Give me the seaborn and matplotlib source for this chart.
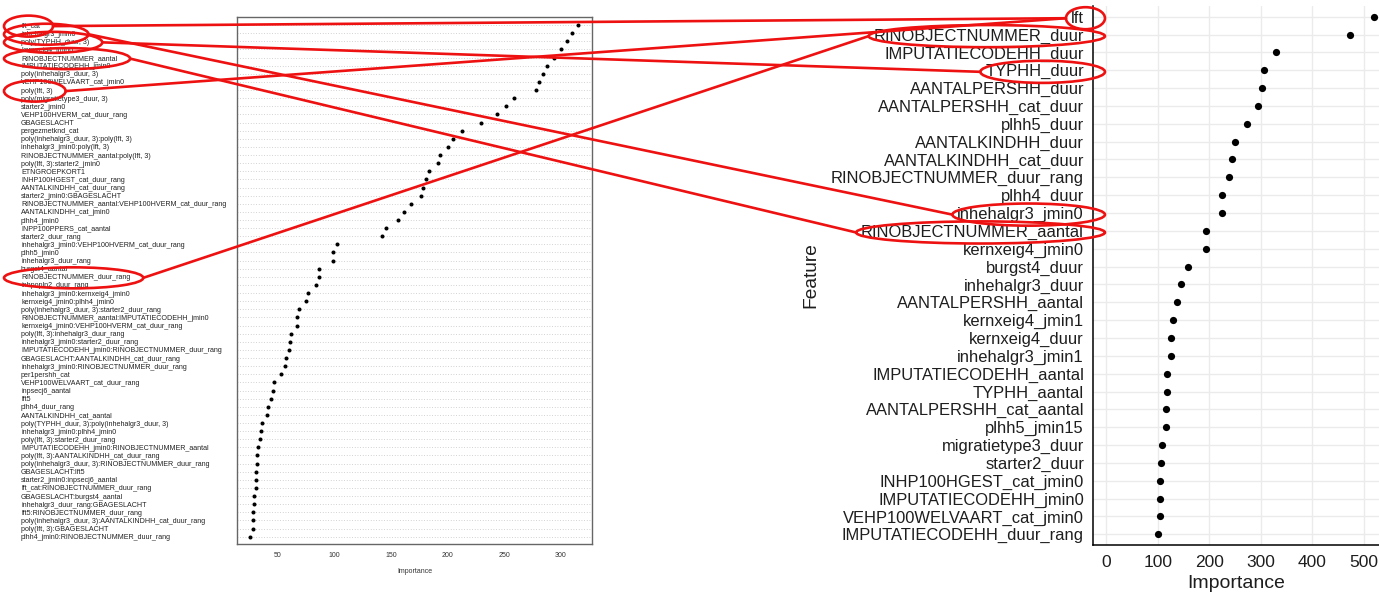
import matplotlib
matplotlib.use('Agg')
import matplotlib.pyplot as plt
import seaborn as sns
import pandas as pd
from matplotlib.patches import Ellipse
from matplotlib.lines import Line2D
from matplotlib.transforms import IdentityTransform

# left panel: variable importance of the regression model (64 terms)
glm_features = [
    'lft_cat', 'inhehalgr3_jmin0', 'poly(TYPHH_duur, 3)', 'kernxeig4_jmin0',
    'RINOBJECTNUMMER_aantal', 'IMPUTATIECODEHH_jmin0', 'poly(inhehalgr3_duur, 3)',
    'VEHP100WELVAART_cat_jmin0', 'poly(lft, 3)', 'poly(migratietype3_duur, 3)',
    'starter2_jmin0', 'VEHP100HVERM_cat_duur_rang', 'GBAGESLACHT', 'pergezmetknd_cat',
    'poly(inhehalgr3_duur, 3):poly(lft, 3)', 'inhehalgr3_jmin0:poly(lft, 3)',
    'RINOBJECTNUMMER_aantal:poly(lft, 3)', 'poly(lft, 3):starter2_jmin0',
    'ETNGROEPKORT1', 'INHP100HGEST_cat_duur_rang', 'AANTALKINDHH_cat_duur_rang',
    'starter2_jmin0:GBAGESLACHT', 'RINOBJECTNUMMER_aantal:VEHP100HVERM_cat_duur_rang',
    'AANTALKINDHH_cat_jmin0', 'plhh4_jmin0', 'INPP100PPERS_cat_aantal',
    'starter2_duur_rang', 'inhehalgr3_jmin0:VEHP100HVERM_cat_duur_rang', 'plhh5_jmin0',
    'inhehalgr3_duur_rang', 'burgst4_aantal', 'RINOBJECTNUMMER_duur_rang',
    'inhpopln2_duur_rang', 'inhehalgr3_jmin0:kernxeig4_jmin0', 'kernxeig4_jmin0:plhh4_jmin0',
    'poly(inhehalgr3_duur, 3):starter2_duur_rang',
    'RINOBJECTNUMMER_aantal:IMPUTATIECODEHH_jmin0',
    'kernxeig4_jmin0:VEHP100HVERM_cat_duur_rang', 'poly(lft, 3):inhehalgr3_duur_rang',
    'inhehalgr3_jmin0:starter2_duur_rang',
    'IMPUTATIECODEHH_jmin0:RINOBJECTNUMMER_duur_rang',
    'GBAGESLACHT:AANTALKINDHH_cat_duur_rang', 'inhehalgr3_jmin0:RINOBJECTNUMMER_duur_rang',
    'per1pershh_cat', 'VEHP100WELVAART_cat_duur_rang', 'inpsecj6_aantal', 'lft5',
    'plhh4_duur_rang', 'AANTALKINDHH_cat_aantal',
    'poly(TYPHH_duur, 3):poly(inhehalgr3_duur, 3)', 'inhehalgr3_jmin0:plhh4_jmin0',
    'poly(lft, 3):starter2_duur_rang', 'IMPUTATIECODEHH_jmin0:RINOBJECTNUMMER_aantal',
    'poly(lft, 3):AANTALKINDHH_cat_duur_rang',
    'poly(inhehalgr3_duur, 3):RINOBJECTNUMMER_duur_rang', 'GBAGESLACHT:lft5',
    'starter2_jmin0:inpsecj6_aantal', 'lft_cat:RINOBJECTNUMMER_duur_rang',
    'GBAGESLACHT:burgst4_aantal', 'inhehalgr3_duur_rang:GBAGESLACHT',
    'lft5:RINOBJECTNUMMER_duur_rang',
    'poly(inhehalgr3_duur, 3):AANTALKINDHH_cat_duur_rang', 'poly(lft, 3):GBAGESLACHT',
    'plhh4_jmin0:RINOBJECTNUMMER_duur_rang',
]
glm_importance = [
    315, 309.7, 305, 300, 293.5, 288, 283.8, 280.8, 278, 258.7, 251.7, 243.7, 229.6,
    212.8, 204.6, 199.8, 192.8, 191.6, 183.7, 180.7, 177.8, 176.6, 167.8, 161.6,
    155.7, 145.7, 141.5, 102.4, 98.6, 98.6, 86.5, 86.5, 83.6, 76.5, 74.4, 68.5,
    66.5, 66.5, 61.2, 60.3, 59.4, 57.3, 56.5, 52.3, 46.5, 45.3, 43.5, 41.5, 40.3,
    36.1, 35.3, 34.4, 32.3, 31.4, 31.4, 30.2, 30.2, 30.2, 29.1, 29.1, 28.2, 28.2,
    28.2, 25.3,
]

# right panel: feature importance of the tree model (30 features)
xgb_features = [
    'lft', 'RINOBJECTNUMMER_duur', 'IMPUTATIECODEHH_duur', 'TYPHH_duur',
    'AANTALPERSHH_duur', 'AANTALPERSHH_cat_duur', 'plhh5_duur', 'AANTALKINDHH_duur',
    'AANTALKINDHH_cat_duur', 'RINOBJECTNUMMER_duur_rang', 'plhh4_duur',
    'inhehalgr3_jmin0', 'RINOBJECTNUMMER_aantal', 'kernxeig4_jmin0', 'burgst4_duur',
    'inhehalgr3_duur', 'AANTALPERSHH_aantal', 'kernxeig4_jmin1', 'kernxeig4_duur',
    'inhehalgr3_jmin1', 'IMPUTATIECODEHH_aantal', 'TYPHH_aantal',
    'AANTALPERSHH_cat_aantal', 'plhh5_jmin15', 'migratietype3_duur', 'starter2_duur',
    'INHP100HGEST_cat_jmin0', 'IMPUTATIECODEHH_jmin0', 'VEHP100WELVAART_cat_jmin0',
    'IMPUTATIECODEHH_duur_rang',
]
xgb_importance = [
    519.8, 474.4, 330.7, 307.4, 303.5, 294.5, 273.1, 250.5, 244, 238.2, 224, 224,
    194.2, 194.2, 159.2, 144.3, 137.2, 128.8, 126.2, 125.6, 117.8, 117.8, 116.5,
    116.5, 108.7, 106.8, 104.2, 103.6, 103.6, 100.3,
]

# red annotations: left term -> matching right feature
links = [
    ('lft_cat', 'lft'),
    ('inhehalgr3_jmin0', 'inhehalgr3_jmin0'),
    ('poly(TYPHH_duur, 3)', 'TYPHH_duur'),
    ('RINOBJECTNUMMER_aantal', 'RINOBJECTNUMMER_aantal'),
    ('poly(lft, 3)', 'lft'),
    ('RINOBJECTNUMMER_duur_rang', 'RINOBJECTNUMMER_duur'),
]

W, H = 1379, 595
sns.set_style('white')
plt.rcParams['font.family'] = ['Liberation Sans', 'DejaVu Sans']
fig = plt.figure(figsize=(W / 100, H / 100), dpi=100)


def px(l, t, r, b):
    return [l / W, 1 - b / H, (r - l) / W, (b - t) / H]


# ---- left panel (lattice style dotplot)
ax1 = fig.add_axes(px(237, 17, 592, 544))
left = pd.DataFrame({'feature': glm_features, 'importance': glm_importance})
sns.stripplot(data=left, x='importance', y='feature', order=glm_features,
              jitter=False, color='black', size=2.9, linewidth=0, ax=ax1)
ax1.set_xlim(13.8, 327.4)
ax1.set_ylim(len(glm_features) - 0.1, -1.0)
ax1.set_xticks([50, 100, 150, 200, 250, 300])
ax1.set_yticks(range(len(glm_features)), glm_features, ha='left', fontsize=5.1, color='#222222')
ax1.tick_params(axis='y', length=0, pad=(237 - 21) * 0.72)
ax1.tick_params(axis='x', length=2.5, width=0.6, color='#555555', labelsize=5.0,
                pad=3, labelcolor='#333333')
ax1.grid(False)
ax1.yaxis.grid(True, linestyle=(0, (1, 2.2)), color='#c4c4c4', linewidth=0.6)
ax1.set_axisbelow(True)
for s in ax1.spines.values():
    s.set_visible(True)
    s.set_color('#666666')
    s.set_linewidth(1.0)
ax1.set_ylabel('')
ax1.set_xlabel('Importance', fontsize=5.0, color='#333333', labelpad=7)

# ---- right panel (ggplot style)
ax2 = fig.add_axes(px(1093, 6, 1379, 545))
right = pd.DataFrame({'feature': xgb_features, 'importance': xgb_importance})
sns.stripplot(data=right, x='importance', y='feature', order=xgb_features,
              jitter=False, color='black', size=5.2, linewidth=0, ax=ax2)
ax2.set_xlim(-26, 530)
ax2.set_ylim(len(xgb_features) - 0.4, -0.6)
ax2.set_xticks([0, 100, 200, 300, 400, 500])
ax2.grid(True, color='#ebebeb', linewidth=1.0)
ax2.set_axisbelow(True)
for side in ['top', 'right']:
    ax2.spines[side].set_visible(False)
for side in ['left', 'bottom']:
    ax2.spines[side].set_color('black')
    ax2.spines[side].set_linewidth(1.1)
ax2.tick_params(axis='y', length=3.5, width=1, color='#333333', labelsize=11.9,
                pad=3, labelcolor='#1e1e1e')
ax2.tick_params(axis='x', length=3.5, width=1, color='#333333', labelsize=12.5,
                pad=3.5, labelcolor='#1e1e1e')
ax2.set_xlabel('Importance', fontsize=14, color='#1e1e1e', labelpad=3.5)
ax2.set_ylabel('Feature', fontsize=13.8, color='#1e1e1e')
ax2.yaxis.set_label_coords(-0.958, 0.5)

# ---- red ellipses and connecting lines, placed from the tick label extents
fig.canvas.draw()
renderer = fig.canvas.get_renderer()


def ring(ax, name, dw, dh, dx):
    for t in ax.get_yticklabels():
        if t.get_text() == name:
            bb = t.get_window_extent(renderer)
            cx = (bb.x0 + bb.x1) / 2 + dx
            cy = (bb.y0 + bb.y1) / 2
            return cx, cy, bb.width + dw, bb.height + dh
    return None


red = dict(color='#ee1111', linewidth=1.9)
done = set()
for lname, rname in links:
    lx, ly, lw, lh = ring(ax1, lname, 30, 14, -2)
    rx, ry, rw, rh = ring(ax2, rname, 26, 7, 8)
    if ('L', lname) not in done:
        fig.add_artist(Ellipse((lx, ly), lw, lh, fill=False, ec=red['color'],
                               lw=red['linewidth'], transform=IdentityTransform()))
        done.add(('L', lname))
    if ('R', rname) not in done:
        fig.add_artist(Ellipse((rx, ry), rw, rh, fill=False, ec=red['color'],
                               lw=red['linewidth'], transform=IdentityTransform()))
        done.add(('R', rname))
    fig.add_artist(Line2D([lx + lw / 2, rx - rw / 2], [ly, ry],
                          transform=IdentityTransform(), **red))

fig.savefig('out.png', dpi=100)
